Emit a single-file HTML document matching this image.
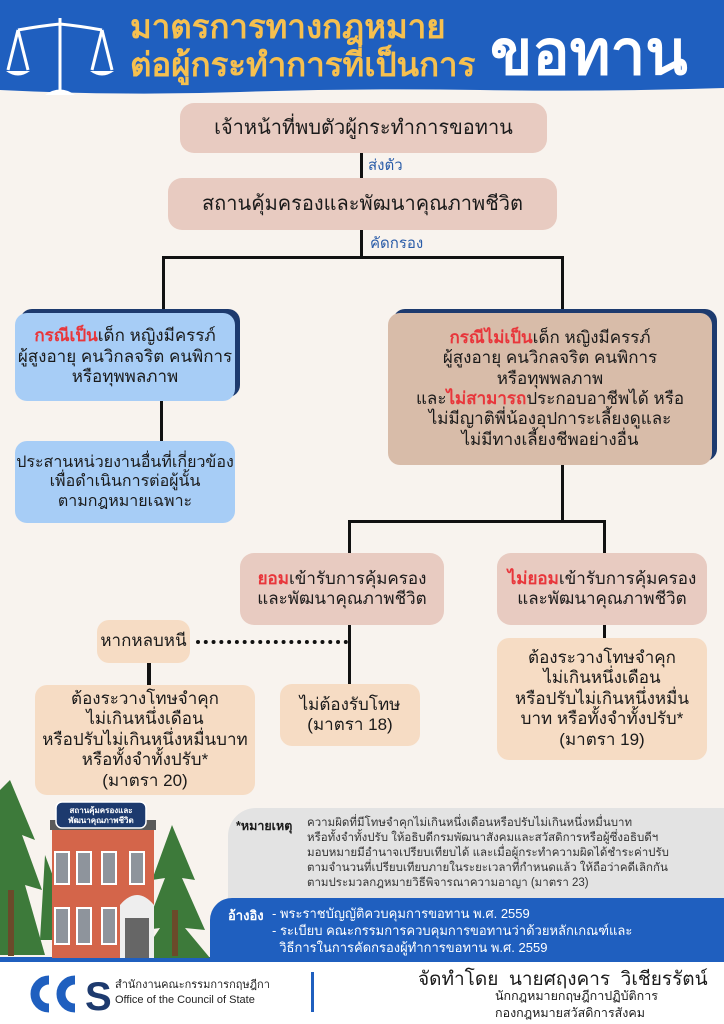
<!DOCTYPE html>
<html><head><meta charset="utf-8"><style>
*{margin:0;padding:0;box-sizing:border-box}
body{width:724px;height:1024px;position:relative;background:#f8f3ee;font-family:"Liberation Sans","DejaVu Sans",sans-serif;overflow:hidden;color:#1a1a1a}
.a{position:absolute}
.box{position:absolute;display:flex;flex-direction:column;align-items:center;justify-content:center;text-align:center;line-height:1.2;white-space:nowrap}
.pk{background:#e8cbc1;border-radius:14px}
.pe{background:#f6dcc4;border-radius:12px}
.bl{background:#a7cdf6;border-radius:12px;box-shadow:5px -4px 0 #1d3a6e}
.tn{background:#d8bca9;border-radius:12px;box-shadow:5px -4px 0 #1d3a6e}
.r{color:#e8363b;font-weight:bold}
.ln{position:absolute;background:#111}
.lb{position:absolute;color:#2a5ca8;font-size:15px}
</style></head><body>
<svg class="a" style="left:0;top:0" width="724" height="100">
<path d="M0 0H724V88Q600 92 480 90T240 92T0 90Z" fill="#1f5fbf"/>
<g stroke="#fff" stroke-width="3" fill="none">
<line x1="60" y1="18" x2="60" y2="95"/><path d="M18 30Q40 26 60 24Q80 26 102 30"/>
<line x1="18" y1="30" x2="8" y2="70"/><line x1="18" y1="30" x2="28" y2="70"/>
<line x1="102" y1="30" x2="92" y2="70"/><line x1="102" y1="30" x2="112" y2="70"/>
</g>
<path d="M6 71Q18 80 30 71Z M90 71Q102 80 114 71Z" fill="#fff"/>
<path d="M45 95Q60 84 75 95Z" fill="#fff"/>
</svg>
<div class="a" style="left:130px;top:8px;color:#f6c04f;font-size:33px;font-weight:bold;line-height:38px;white-space:nowrap">มาตรการทางกฎหมาย<br>ต่อผู้กระทำการที่เป็นการ</div>
<div class="a" style="left:490px;top:18px;color:#fff;font-size:62px;font-weight:bold;line-height:72px">ขอทาน</div>

<div class="box pk" style="left:180px;top:103px;width:367px;height:50px;font-size:20px">เจ้าหน้าที่พบตัวผู้กระทำการขอทาน</div>
<div class="ln" style="left:360px;top:153px;width:3px;height:25px"></div>
<div class="lb" style="left:368px;top:153px">ส่งตัว</div>
<div class="box pk" style="left:168px;top:178px;width:389px;height:52px;font-size:20px">สถานคุ้มครองและพัฒนาคุณภาพชีวิต</div>
<div class="ln" style="left:360px;top:230px;width:3px;height:28px"></div>
<div class="lb" style="left:370px;top:231px">คัดกรอง</div>
<div class="ln" style="left:162px;top:256px;width:402px;height:3px"></div>
<div class="ln" style="left:162px;top:256px;width:3px;height:56px"></div>
<div class="ln" style="left:561px;top:256px;width:3px;height:56px"></div>

<div class="box bl" style="left:15px;top:313px;width:220px;height:88px;font-size:17px"><div><span class="r">กรณีเป็น</span>เด็ก หญิงมีครรภ์</div><div>ผู้สูงอายุ คนวิกลจริต คนพิการ</div><div>หรือทุพพลภาพ</div></div>
<div class="ln" style="left:160px;top:401px;width:3px;height:40px"></div>
<div class="box bl" style="left:15px;top:441px;width:220px;height:82px;font-size:16px;box-shadow:none"><div>ประสานหน่วยงานอื่นที่เกี่ยวข้อง</div><div>เพื่อดำเนินการต่อผู้นั้น</div><div>ตามกฎหมายเฉพาะ</div></div>

<div class="box tn" style="left:388px;top:313px;width:324px;height:152px;font-size:17px"><div><span class="r">กรณีไม่เป็น</span>เด็ก หญิงมีครรภ์</div><div>ผู้สูงอายุ คนวิกลจริต คนพิการ</div><div>หรือทุพพลภาพ</div><div>และ<span class="r">ไม่สามารถ</span>ประกอบอาชีพได้ หรือ</div><div>ไม่มีญาติพี่น้องอุปการะเลี้ยงดูและ</div><div>ไม่มีทางเลี้ยงชีพอย่างอื่น</div></div>
<div class="ln" style="left:561px;top:465px;width:3px;height:57px"></div>
<div class="ln" style="left:348px;top:520px;width:257px;height:3px"></div>
<div class="ln" style="left:348px;top:520px;width:3px;height:34px"></div>
<div class="ln" style="left:603px;top:520px;width:3px;height:34px"></div>

<div class="box pk" style="left:240px;top:553px;width:204px;height:72px;font-size:17px"><div><span class="r">ยอม</span>เข้ารับการคุ้มครอง</div><div>และพัฒนาคุณภาพชีวิต</div></div>
<div class="box pk" style="left:497px;top:553px;width:210px;height:72px;font-size:17px"><div><span class="r">ไม่ยอม</span>เข้ารับการคุ้มครอง</div><div>และพัฒนาคุณภาพชีวิต</div></div>
<div class="ln" style="left:348px;top:625px;width:3px;height:60px"></div>
<div class="ln" style="left:603px;top:625px;width:3px;height:14px"></div>
<div class="box pe" style="left:97px;top:620px;width:93px;height:43px;font-size:17px">หากหลบหนี</div>
<div class="a" style="left:196px;top:640px;width:152px;border-top:4px dotted #111"></div>
<div class="ln" style="left:147px;top:663px;width:4px;height:23px"></div>
<div class="box pe" style="left:35px;top:685px;width:220px;height:110px;font-size:17px"><div>ต้องระวางโทษจำคุก</div><div>ไม่เกินหนึ่งเดือน</div><div>หรือปรับไม่เกินหนึ่งหมื่นบาท</div><div>หรือทั้งจำทั้งปรับ*</div><div>(มาตรา 20)</div></div>
<div class="box pe" style="left:280px;top:684px;width:140px;height:62px;font-size:17px"><div>ไม่ต้องรับโทษ</div><div>(มาตรา 18)</div></div>
<div class="box pe" style="left:497px;top:638px;width:210px;height:122px;font-size:17px"><div>ต้องระวางโทษจำคุก</div><div>ไม่เกินหนึ่งเดือน</div><div>หรือปรับไม่เกินหนึ่งหมื่น</div><div>บาท หรือทั้งจำทั้งปรับ*</div><div>(มาตรา 19)</div></div>

<div class="a" style="left:228px;top:808px;width:496px;height:100px;background:#e3e3e3;border-radius:28px 0 0 0"></div>
<div class="a" style="left:236px;top:816px;font-size:12.5px;font-weight:bold">*หมายเหตุ</div>
<div class="a" style="left:307px;top:816px;font-size:11.5px;line-height:15px;color:#333;white-space:nowrap">ความผิดที่มีโทษจำคุกไม่เกินหนึ่งเดือนหรือปรับไม่เกินหนึ่งหมื่นบาท<br>หรือทั้งจำทั้งปรับ ให้อธิบดีกรมพัฒนาสังคมและสวัสดิการหรือผู้ซึ่งอธิบดีฯ<br>มอบหมายมีอำนาจเปรียบเทียบได้ และเมื่อผู้กระทำความผิดได้ชำระค่าปรับ<br>ตามจำนวนที่เปรียบเทียบภายในระยะเวลาที่กำหนดแล้ว ให้ถือว่าคดีเลิกกัน<br>ตามประมวลกฎหมายวิธีพิจารณาความอาญา (มาตรา 23)</div>
<div class="a" style="left:210px;top:898px;width:514px;height:62px;background:#1f5fbf;border-radius:22px 0 0 0"></div>
<div class="a" style="left:0;top:957px;width:724px;height:5px;background:#1f5fbf"></div>
<div class="a" style="left:228px;top:905px;color:#fff;font-size:13px;font-weight:bold">อ้างอิง</div>
<div class="a" style="left:272px;top:905px;color:#fff;font-size:13px;line-height:17px;white-space:nowrap">- พระราชบัญญัติควบคุมการขอทาน พ.ศ. 2559<br>- ระเบียบ คณะกรรมการควบคุมการขอทานว่าด้วยหลักเกณฑ์และ<br>&nbsp;&nbsp;วิธีการในการคัดกรองผู้ทำการขอทาน พ.ศ. 2559</div>

<svg class="a" style="left:0;top:780px" width="230" height="180">
<g fill="#3d7a3a">
<path d="M10 0L35 60L22 55L42 110L25 105L45 175H0V10Z"/>
<path d="M45 75L62 120L52 118L68 160L40 160Z"/>
<path d="M172 45L195 100L182 98L205 150L185 148L210 178H140L160 148L145 150L165 98L152 100Z"/>
</g>
<rect x="8" y="110" width="6" height="66" fill="#6b4a2a"/><rect x="172" y="130" width="6" height="46" fill="#6b4a2a"/>
<rect x="50" y="40" width="106" height="10" fill="#5a5a5a"/>
<rect x="52" y="50" width="102" height="128" fill="#d4654a"/>
<g fill="#8e949c" stroke="#fff" stroke-width="2">
<rect x="55" y="72" width="14" height="32"/><rect x="77" y="72" width="14" height="32"/><rect x="102" y="72" width="14" height="32"/><rect x="130" y="72" width="14" height="32"/>
<rect x="55" y="128" width="14" height="36"/><rect x="77" y="128" width="14" height="36"/><rect x="102" y="128" width="14" height="36"/>
</g>
<path d="M120 125Q137 105 154 125V178H120Z" fill="#eee"/><rect x="125" y="138" width="24" height="40" fill="#666"/>
<rect x="56" y="22" width="90" height="26" rx="6" fill="#1d3a6e" stroke="#fff" stroke-width="1.5"/>
<text x="101" y="33" font-size="8" fill="#fff" text-anchor="middle" font-weight="bold">สถานคุ้มครองและ</text>
<text x="101" y="43" font-size="8" fill="#fff" text-anchor="middle" font-weight="bold">พัฒนาคุณภาพชีวิต</text>
</svg>

<div class="a" style="left:0;top:962px;width:724px;height:62px;background:#fff"></div>
<svg class="a" style="left:25px;top:972px" width="90" height="44"><g fill="none" stroke="#1f5fbf" stroke-width="9"><path d="M24 8A14 14 0 1 0 24 36"/><path d="M50 8A14 14 0 1 0 50 36"/></g><text x="60" y="38" font-size="40" font-weight="bold" fill="#1d3a6e">S</text></svg>
<div class="a" style="left:115px;top:978px;font-size:11px;line-height:15px;color:#222">สำนักงานคณะกรรมการกฤษฎีกา<br>Office of the Council of State</div>
<div class="a" style="left:311px;top:972px;width:3px;height:40px;background:#1f5fbf"></div>
<div class="a" style="left:418px;top:964px;font-size:19px;white-space:nowrap">จัดทำโดย&nbsp; นายศฤงคาร&nbsp; วิเชียรรัตน์</div>
<div class="a" style="left:495px;top:988px;font-size:12.5px;line-height:17px">นักกฎหมายกฤษฎีกาปฏิบัติการ<br>กองกฎหมายสวัสดิการสังคม</div>
</body></html>
